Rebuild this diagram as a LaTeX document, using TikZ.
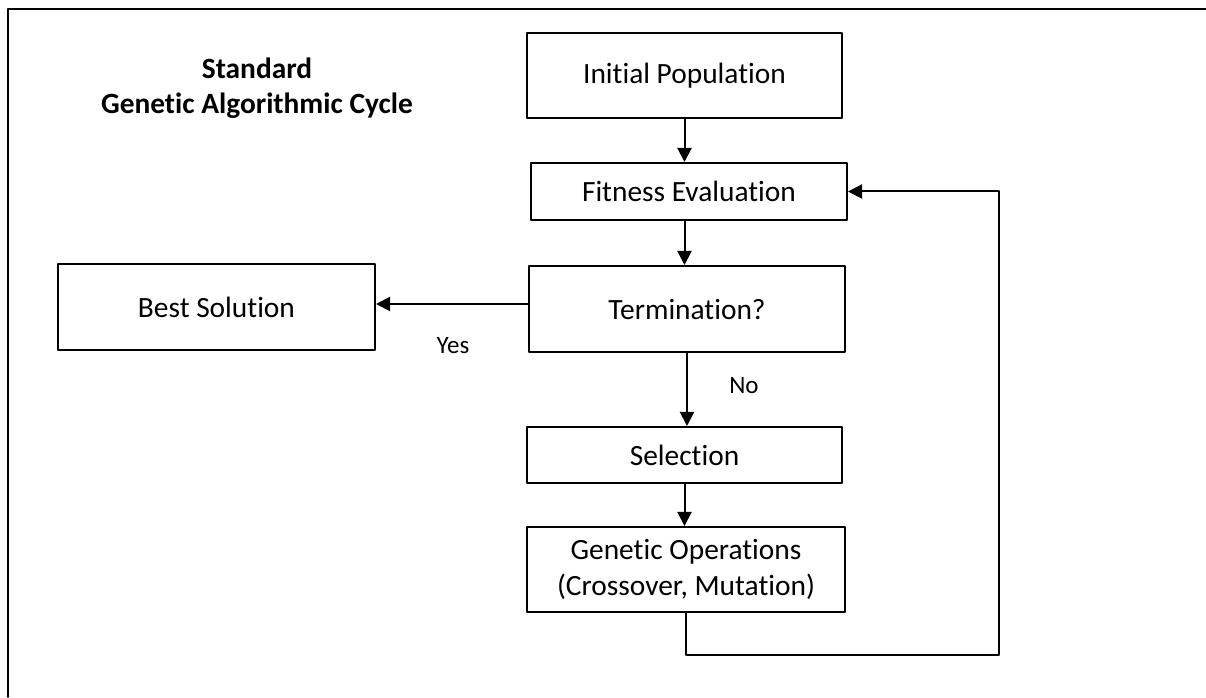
\documentclass[tikz,border=0pt]{standalone}
\usepackage{fontspec}
\setmainfont{Carlito}[Ligatures=NoCommon]
\usetikzlibrary{arrows.meta}
\usetikzlibrary{positioning,calc}

\tikzset{stepbox/.style={draw,line width=1pt,inner sep=0pt,align=center,font=\fontsize{14.7}{18}\selectfont},
  lbl/.style={font=\fontsize{12.5}{14}\selectfont}}

\begin{document}
\begin{tikzpicture}[line cap=round,line join=round,>={Triangle[length=7pt,width=7pt]},x=50pt,y=50pt]
\useasboundingbox (0,0) rectangle (12.06,6.97);
\draw [line width=0.8pt] (0.08,0) -- (0.08,6.88) -- (12.06,6.88);
\node[font=\bfseries\fontsize{14.7}{17.5}\selectfont,align=center] (title) at (2.57,6.085) {Standard\\Genetic Algorithmic Cycle};
\node[stepbox,minimum width=157.5pt,minimum height=42.5pt] (init) at (6.845,6.215) {Initial Population};
\node[stepbox,minimum width=158pt,minimum height=28.5pt] (fit) at (6.89,5.055) {Fitness Evaluation};
\node[stepbox,minimum width=158pt,minimum height=43pt] (term) at (6.87,3.88) {Termination?};
\node[stepbox,minimum width=158.5pt,minimum height=43pt] (best) at (2.165,3.90) {Best Solution};
\node[stepbox,minimum width=157.5pt,minimum height=28pt] (sel) at (6.845,2.42) {Selection};
\node[stepbox,minimum width=159pt,minimum height=42.5pt] (gen) at (6.86,1.275) {Genetic Operations\\(Crossover, Mutation)};
\node[lbl] (yes) at (4.53,3.51) {Yes};
\node[lbl] (no) at (7.44,3.11) {No};
\coordinate (corner) at (9.99,0.42);
\draw [->,line width=1pt] (init.south) -- (init.south |- fit.north);
\draw [->,line width=1pt] (init.south |- fit.south) -- (init.south |- term.north);
\draw [->,line width=1pt] ([yshift=2.5pt]term.west) -- ([yshift=2.5pt]term.west -| best.east);
\draw [->,line width=1pt] (term.south) -- (term.south |- sel.north);
\draw [->,line width=1pt] (sel.south) -- (sel.south |- gen.north);
\draw [->,line width=1pt] (gen.south) |- (corner) |- (fit.east);
\end{tikzpicture}
\end{document}
